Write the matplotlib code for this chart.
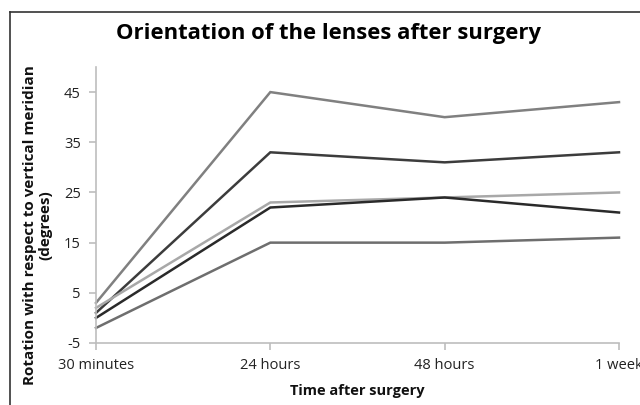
import matplotlib
matplotlib.use("Agg")
import matplotlib.pyplot as plt
from matplotlib.lines import Line2D

categories = ["30 minutes", "24 hours", "48 hours", "1 week"]
series_a = [3, 45, 40, 43]
series_b = [1, 33, 31, 33]
series_c = [2, 23, 24, 25]
series_d = [0, 22, 24, 21]
series_e = [-2, 15, 15, 16]
yticks = [-5, 5, 15, 25, 35, 45]

colors = ["#808080", "#3c3c3c", "#a8a8a8", "#2a2a2a", "#6e6e6e"]
all_series = [series_a, series_b, series_c, series_d, series_e]

plt.rcParams['font.family'] = ['Open Sans', 'DejaVu Sans']
plt.rcParams['axes.unicode_minus'] = False

W, H = 640, 405
fig = plt.figure(figsize=(W / 100, H / 100), dpi=100)

def fx(px):
    return px / W

def fy(py):
    return 1 - py / H

left, right, top, bottom = 96, 619, 67, 343
ax = fig.add_axes([fx(left), fy(bottom), fx(right - left), (bottom - top) / H])

x = list(range(len(categories)))
for s, c in zip(all_series, colors):
    ax.plot(x, s, color=c, lw=1.8, solid_joinstyle='miter', clip_on=False)

ax.set_xlim(0, len(categories) - 1)
ax.set_ylim(-5, 50)
ax.set_yticks(yticks)
ax.set_xticks(x)
ax.set_xticklabels(categories)
for sp in ["top", "right"]:
    ax.spines[sp].set_visible(False)
for sp in ["left", "bottom"]:
    ax.spines[sp].set_color("#bdbdbd")
    ax.spines[sp].set_linewidth(1.2)
ax.tick_params(axis='both', colors="#bdbdbd", length=5, width=1.2, labelcolor="#222222", labelsize=10.5)
ax.tick_params(axis='y', pad=6)
ax.tick_params(axis='x', pad=6)

fig.text(fx(328), fy(34), "Orientation of the lenses after surgery", ha='center', va='center',
         fontsize=15.8, fontweight='bold', color='black')
fig.text(fx(357), fy(391), "Time after surgery", ha='center', va='center',
         fontsize=10.5, fontweight='bold', color='#111111')
fig.text(fx(38), fy(225), "Rotation with respect to vertical meridian\n(degrees)", ha='center', va='center',
         rotation=90, fontsize=11, fontweight='bold', color='#111111', linespacing=1.1)

# chart border (cropped)
fig.add_artist(Line2D([fx(10), 1.0], [fy(12), fy(12)], color="#333333", lw=1.2))
fig.add_artist(Line2D([fx(10), fx(10)], [fy(12), 0.0], color="#333333", lw=1.2))

fig.savefig("out.png", dpi=100)
